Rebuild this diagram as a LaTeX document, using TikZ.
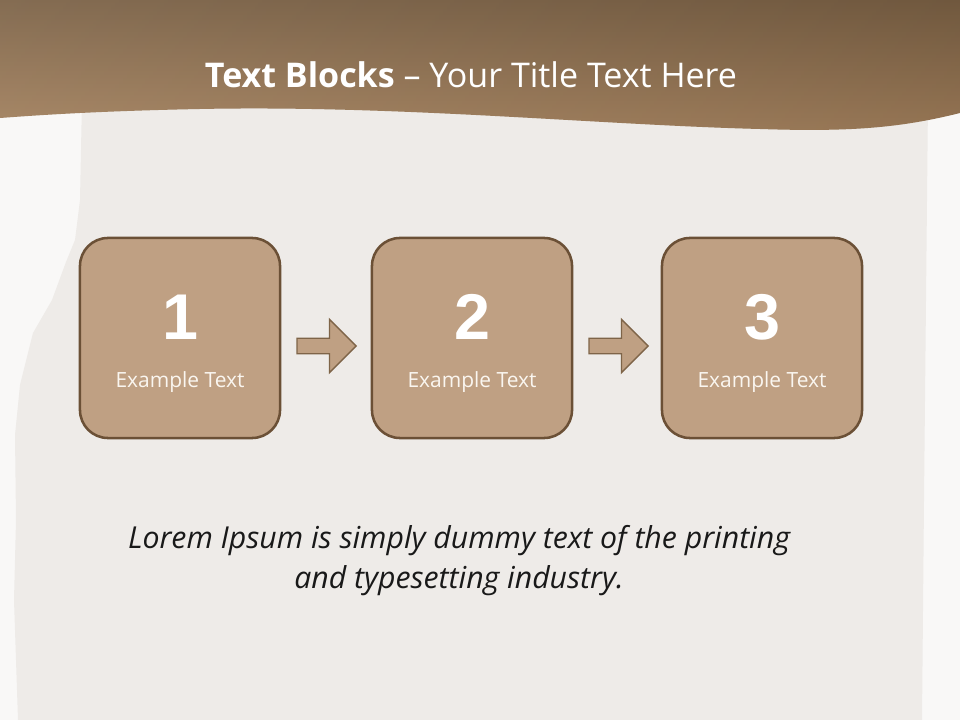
\documentclass[tikz,border=0pt]{standalone}
\usepackage{fontspec}
\setmainfont{Open Sans}
\newfontfamily\numfont{Liberation Sans}
\usetikzlibrary{positioning,shapes.arrows}

\definecolor{bgwhite}{HTML}{F9F8F7}
\definecolor{paper}{HTML}{EEEBE8}
\definecolor{bandtop}{HTML}{7A6044}
\definecolor{bandbot}{HTML}{A27F5B}
\definecolor{boxfill}{HTML}{BFA083}
\definecolor{boxline}{HTML}{6B5036}
\definecolor{arrline}{HTML}{7E6448}
\definecolor{labeltxt}{HTML}{FAF6F0}

% outline of the wavy title band
\newcommand{\bandpath}{(0,0) -- (960,0) -- (960,113) .. controls (900,128) and (850,132) .. (760,129)
  .. controls (600,125) and (400,105) .. (200,109) .. controls (100,111) and (40,115) .. (0,118) -- cycle}

\begin{document}
\begin{tikzpicture}[x=0.025cm, y=-0.025cm,
  blk/.style={draw=boxline, line width=1.8pt, fill=boxfill, rounded corners=0.7cm,
    minimum width=5cm, minimum height=5cm},
  nxt/.style={single arrow, draw=arrline, line width=1pt, fill=boxfill, inner sep=0.175cm,
    minimum height=1.48cm, single arrow head extend=0.475cm},
  num/.style={text=white, font=\numfont\bfseries\fontsize{46}{46}\selectfont},
  lbl/.style={text=labeltxt, font=\fontsize{14.9}{16}\selectfont}]
\useasboundingbox (0,0) rectangle (960,720);
\fill[bgwhite] (0,0) rectangle (960,720);

% Torn paper sheet behind the blocks
\fill[paper] (82,100) -- (80,200) -- (75,240) -- (66,262) -- (52,300) -- (33,333)
  -- (20,385) -- (15,435) -- (16,520) -- (14,600) -- (18,720) -- (922,720)
  -- (924,500) -- (926,300) -- (928,100) -- cycle;

% Title band: vertical shade, lightened to the left
\shade[top color=bandtop, bottom color=bandbot] \bandpath;
\shade[left color=white, right color=black, opacity=0.08] \bandpath;
\node[text=white, font=\fontsize{24.2}{28}\selectfont] (title) at (471,75)
  {\textbf{Text Blocks} – Your Title Text Here};

% The three blocks
\node[blk] (b1) at (180,338) {};
\node[blk] (b2) at (472,338) {};
\node[blk] (b3) at (762,338) {};

\node[num] (n1) at (180,317) {1};
\node[num] (n2) at (472,317) {2};
\node[num] (n3) at (762,317) {3};

\node[lbl] (t1) at (180,382) {Example Text};
\node[lbl] (t2) at (472,382) {Example Text};
\node[lbl] (t3) at (762,382) {Example Text};

% Arrows between blocks
\node[nxt, right=0.375cm of b1, yshift=-0.2cm] (a1) {};
\node[nxt, right=0.375cm of b2, yshift=-0.2cm] (a2) {};

% Caption
\node[align=center, text=black!90, font=\itshape\fontsize{21.5}{28.5}\selectfont] (cap) at (459,561)
  {Lorem Ipsum is simply dummy text of the printing\\and typesetting industry.};
\end{tikzpicture}
\end{document}
